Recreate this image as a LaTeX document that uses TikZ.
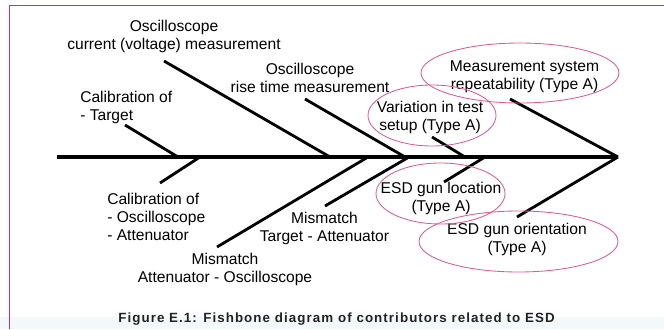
\documentclass[tikz,border=0pt]{standalone}
\usepackage{fontspec}
\setmainfont{Liberation Sans}
\usepackage{xcolor}
\usetikzlibrary{calc}

\definecolor{framepink}{HTML}{D92A73}
\definecolor{ringpink}{HTML}{DC5A8C}
\definecolor{capband}{HTML}{F3F9FB}
\definecolor{captext}{HTML}{222222}

\tikzset{
    spine/.style={line width=2.3pt},
    bone/.style={line width=2.0pt},
    ring/.style={ringpink, line width=0.6pt},
    cause/.style={inner sep=0pt, font=\fontsize{11.1}{12.8}\selectfont},
}

\begin{document}
\begin{tikzpicture}
        \useasboundingbox (0,0) rectangle (16.6,8.225);
        \fill[capband] (0,0) rectangle (16.6,0.3);

        % frame
        \draw[framepink, line width=1.3pt] (0.2375,0) -- (0.2375,8.0875) -- (16.6,8.0875);

        % spine
        \coordinate (tail) at (1.425,4.3);
        \coordinate (head) at (15.45,4.3);
        \draw[spine] (tail) -- (head);

        % where the bones meet the spine
        \coordinate (s1) at (4.45,4.3);
        \coordinate (s2) at (8.25,4.3);
        \coordinate (s3) at (10.125,4.3);
        \coordinate (s4) at (11.625,4.3);
        \coordinate (b1) at (5.0,4.3);
        \coordinate (b2) at (9.2,4.3);
        \coordinate (b3) at (10.225,4.3);
        \coordinate (b4) at (12.125,4.3);

        % free ends of the bones
        \coordinate (t1) at (3.125,5.1);
        \coordinate (t2) at (4.1,6.7);
        \coordinate (t3) at (7.625,5.75);
        \coordinate (t4) at (10.8,4.8);
        \coordinate (t5) at (12.75,5.75);
        \coordinate (u1) at (4.0,3.65);
        \coordinate (u2) at (5.425,2.05);
        \coordinate (u3) at (8.125,3.075);
        \coordinate (u4) at (11.1,3.675);
        \coordinate (u5) at (12.925,2.8);

        \draw[bone] (t1) -- (s1);
        \draw[bone] (t2) -- (s2);
        \draw[bone] (t3) -- (s3);
        \draw[bone] (t4) -- (s4);
        \draw[bone] (t5) -- (head);
        \draw[bone] (b1) -- (u1);
        \draw[bone] (b2) -- (u2);
        \draw[bone] (b3) -- (u3);
        \draw[bone] (b4) -- (u4);
        \draw[bone] (head) -- (u5);

        % causes
        \node[cause, align=center] (curr) at (4.35,7.325) {Oscilloscope\\current (voltage) measurement};
        \node[cause, align=center] (rise) at (7.75,6.275) {Oscilloscope\\rise time measurement};
        \node[cause, align=left, anchor=west] (calt) at (2.0,5.55) {Calibration of\\- Target};
        \node[cause, align=left, anchor=west] (calo) at (2.675,2.8) {Calibration of\\- Oscilloscope\\- Attenuator};
        \node[cause, align=center] (misao) at (5.625,1.5) {Mismatch\\Attenuator - Oscilloscope};
        \node[cause, align=center] (mista) at (8.1125,2.5125) {Mismatch\\Target - Attenuator};
        \node[cause, align=center] (meas) at (13.1125,6.3) {Measurement system\\repeatability (Type A)};
        \node[cause, align=center] (setup) at (10.75,5.2875) {Variation in test\\setup (Type A)};
        \node[cause, align=center] (loc) at (11.025,3.2625) {ESD gun location\\(Type A)};
        \node[cause, align=center] (orient) at (12.925,2.25) {ESD gun orientation\\(Type A)};

        % Type A rings
        \draw[ring] (13.0,6.4) ellipse (2.475 and 0.75);
        \draw[ring] (10.8,5.3375) ellipse (1.6 and 0.7625);
        \draw[ring] (11.0125,3.3875) ellipse (1.6125 and 0.7625);
        \draw[ring] (12.9625,2.1875) ellipse (2.4875 and 0.7625);

        \node[inner sep=0pt, captext, font=\fontsize{9.5}{11}\selectfont\bfseries\addfontfeature{LetterSpace=8}] (cap) at (8.4125,0.25)
            {Figure E.1: Fishbone diagram of contributors related to ESD};

    \end{tikzpicture}
\end{document}
